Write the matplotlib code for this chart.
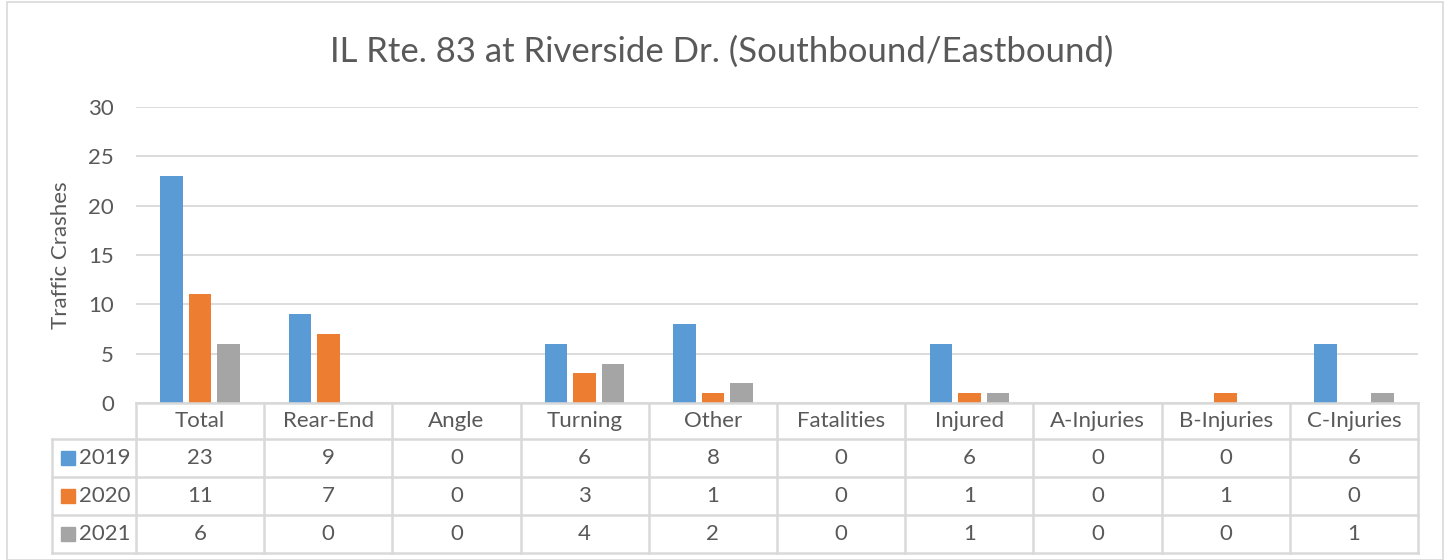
import numpy as np
import matplotlib.pyplot as plt
from matplotlib.lines import Line2D
from matplotlib.patches import Rectangle

DPI = 100
W, H = 1448, 560

categories = ["Total", "Rear-End", "Angle", "Turning", "Other", "Fatalities",
              "Injured", "A-Injuries", "B-Injuries", "C-Injuries"]
years = ["2019", "2020", "2021"]
v2019 = [23, 9, 0, 6, 8, 0, 6, 0, 0, 6]
v2020 = [11, 7, 0, 3, 1, 0, 1, 0, 1, 0]
v2021 = [6, 0, 0, 4, 2, 0, 1, 0, 0, 1]
colors = ["#5b9bd5", "#ed7d31", "#a5a5a5"]

TXT = "#595959"
GRID = "#d9d9d9"
FS = 16
plt.rcParams["font.family"] = ["Lato", "DejaVu Sans"]


def fx(px):
    return px / W


def fy(py):
    return 1 - py / H


fig = plt.figure(figsize=(W / DPI, H / DPI), dpi=DPI)
# plot area in pixels
L, R, T, B = 136, 1418, 107, 403
ax = fig.add_axes([fx(L), fy(B), fx(R) - fx(L), fy(T) - fy(B)])

series = [v2019, v2020, v2021]
x = np.arange(len(categories))
bw = 0.175
pitch = 0.222
for i, (vals, c) in enumerate(zip(series, colors)):
    ax.bar(x + (i - 1) * pitch, vals, bw, color=c, zorder=3)

ax.set_xlim(-0.5, len(categories) - 0.5)
ax.set_ylim(0, 30)
ax.set_yticks(range(0, 31, 5))
ax.yaxis.grid(True, color=GRID, linewidth=1.3, zorder=0)
ax.set_xticks([])
ax.tick_params(axis="y", length=0, pad=16, labelsize=FS, labelcolor=TXT)
for s in ax.spines.values():
    s.set_visible(False)
ax.set_ylabel("Traffic Crashes", fontsize=FS, color=TXT)
ax.yaxis.set_label_coords((71 - L) / (R - L), 0.5)

fig.text(fx(722), fy(52), "IL Rte. 83 at Riverside Dr. (Southbound/Eastbound)",
         fontsize=25, color=TXT, ha="center", va="center")

# data table below the plot
rows_y = [403, 439, 477, 515, 553]
colw = (R - L) / len(categories)
leg_left = 52


def hline(x0, x1, y):
    fig.add_artist(Line2D([fx(x0), fx(x1)], [fy(y), fy(y)], color=GRID, lw=1.8))


def vline(xp, y0, y1):
    fig.add_artist(Line2D([fx(xp), fx(xp)], [fy(y0), fy(y1)], color=GRID, lw=1.8))


hline(L, R, rows_y[0])
for y in rows_y[1:]:
    hline(leg_left, R, y)
for k in range(len(categories) + 1):
    vline(L + k * colw, rows_y[0], rows_y[-1])
vline(leg_left, rows_y[1], rows_y[-1])

for k, cat in enumerate(categories):
    cx = L + (k + 0.5) * colw
    fig.text(fx(cx), fy((rows_y[0] + rows_y[1]) / 2), cat, fontsize=FS,
             color=TXT, ha="center", va="center")
    for r, vals in enumerate(series):
        cy = (rows_y[r + 1] + rows_y[r + 2]) / 2
        fig.text(fx(cx), fy(cy), str(vals[k]), fontsize=FS, color=TXT,
                 ha="center", va="center")

for r, (yr, c) in enumerate(zip(years, colors)):
    cy = (rows_y[r + 1] + rows_y[r + 2]) / 2
    fig.add_artist(Rectangle((fx(61), fy(cy + 7)), fx(14), 14 / H,
                             color=c, transform=fig.transFigure))
    fig.text(fx(79), fy(cy), yr, fontsize=FS, color=TXT, ha="left", va="center")

# chart border
fig.add_artist(Rectangle((fx(7), fy(560)), fx(1443 - 7), fy(8) - fy(560) + 0.01,
                         fill=False, edgecolor=GRID, lw=1.2,
                         transform=fig.transFigure))

fig.savefig("out.png", dpi=DPI)
